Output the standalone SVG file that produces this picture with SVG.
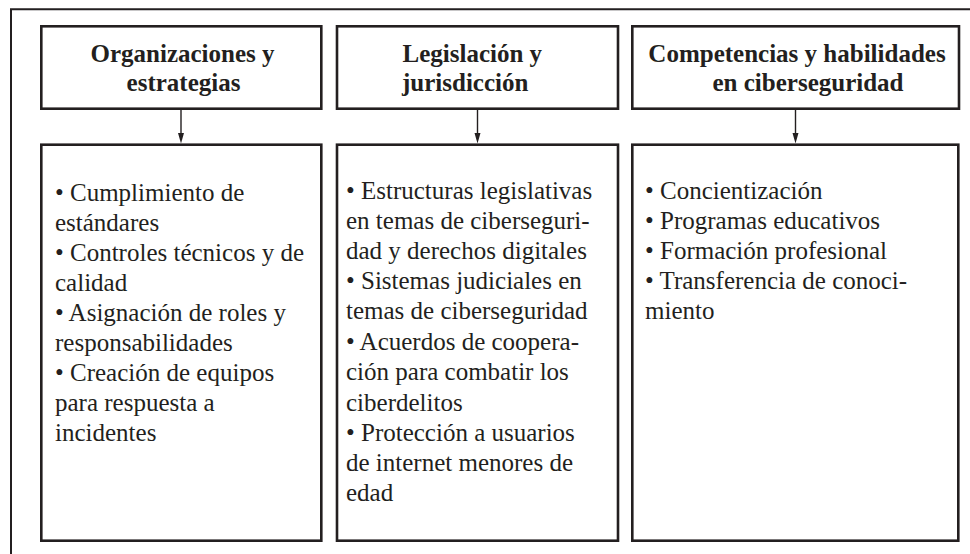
<svg xmlns="http://www.w3.org/2000/svg" width="970" height="554" viewBox="0 0 970 554">
<style>
.box{fill:#fff;stroke:#231f20;stroke-width:2.6}
.frame{fill:none;stroke:#231f20;stroke-width:2}
.hd{font-weight:bold;font-size:25px;fill:#231f20}
.bd{font-size:25px;fill:#231f20}
.conn{stroke:#231f20;stroke-width:1.4;fill:none}
</style>
<rect width="970" height="554" fill="#fff"/>
<path class="frame" d="M11,554 L11,9.3 L970,9.3"/>

<g id="connectors">
<line class="conn" x1="181" y1="109" x2="181" y2="134"/>
<path d="M178,133 L184,133 L181,143.5 Z" fill="#231f20"/>
<line class="conn" x1="477.5" y1="109" x2="477.5" y2="134"/>
<path d="M474.5,133 L480.5,133 L477.5,143.5 Z" fill="#231f20"/>
<line class="conn" x1="795.5" y1="109" x2="795.5" y2="134"/>
<path d="M792.5,133 L798.5,133 L795.5,143.5 Z" fill="#231f20"/>
</g>

<g font-family="'Liberation Serif', 'DejaVu Serif', serif">
<g id="h1">
<rect class="box" x="41.3" y="26.3" width="280" height="82.4"/>
<text class="hd" x="182.5" y="62" text-anchor="middle">Organizaciones y</text>
<text class="hd" x="183.5" y="90.5" text-anchor="middle">estrategias</text>
</g>
<g id="h2">
<rect class="box" x="337" y="26.3" width="281" height="82.4"/>
<text class="hd" x="402.5" y="62">Legislación y</text>
<text class="hd" x="402" y="90.5">jurisdicción</text>
</g>
<g id="h3">
<rect class="box" x="632.3" y="26.3" width="326.7" height="82.4"/>
<text class="hd" x="797" y="62" text-anchor="middle">Competencias y habilidades</text>
<text class="hd" x="808" y="90.5" text-anchor="middle">en ciberseguridad</text>
</g>

<g id="c1">
<rect class="box" x="41.3" y="144.7" width="280" height="396"/>
<text class="bd" x="55" y="201">• Cumplimiento de</text>
<text class="bd" x="55" y="231">estándares</text>
<text class="bd" x="55" y="261">• Controles técnicos y de</text>
<text class="bd" x="55" y="291">calidad</text>
<text class="bd" x="55" y="321">• Asignación de roles y</text>
<text class="bd" x="55" y="351">responsabilidades</text>
<text class="bd" x="55" y="381">• Creación de equipos</text>
<text class="bd" x="55" y="411">para respuesta a</text>
<text class="bd" x="55" y="441">incidentes</text>
</g>
<g id="c2">
<rect class="box" x="337" y="144.7" width="281" height="396"/>
<text class="bd" x="346" y="199">• Estructuras legislativas</text>
<text class="bd" x="346" y="229">en temas de ciberseguri-</text>
<text class="bd" x="346" y="259">dad y derechos digitales</text>
<text class="bd" x="346" y="289">• Sistemas judiciales en</text>
<text class="bd" x="346" y="319">temas de ciberseguridad</text>
<text class="bd" x="346" y="350">• Acuerdos de coopera-</text>
<text class="bd" x="346" y="380">ción para combatir los</text>
<text class="bd" x="346" y="411">ciberdelitos</text>
<text class="bd" x="346" y="441">• Protección a usuarios</text>
<text class="bd" x="346" y="471">de internet menores de</text>
<text class="bd" x="346" y="501">edad</text>
</g>
<g id="c3">
<rect class="box" x="632.3" y="144.7" width="326" height="396"/>
<text class="bd" x="645" y="199">• Concientización</text>
<text class="bd" x="645" y="229">• Programas educativos</text>
<text class="bd" x="645" y="259">• Formación profesional</text>
<text class="bd" x="645" y="289">• Transferencia de conoci-</text>
<text class="bd" x="645" y="319">miento</text>
</g>
</g>
</svg>
